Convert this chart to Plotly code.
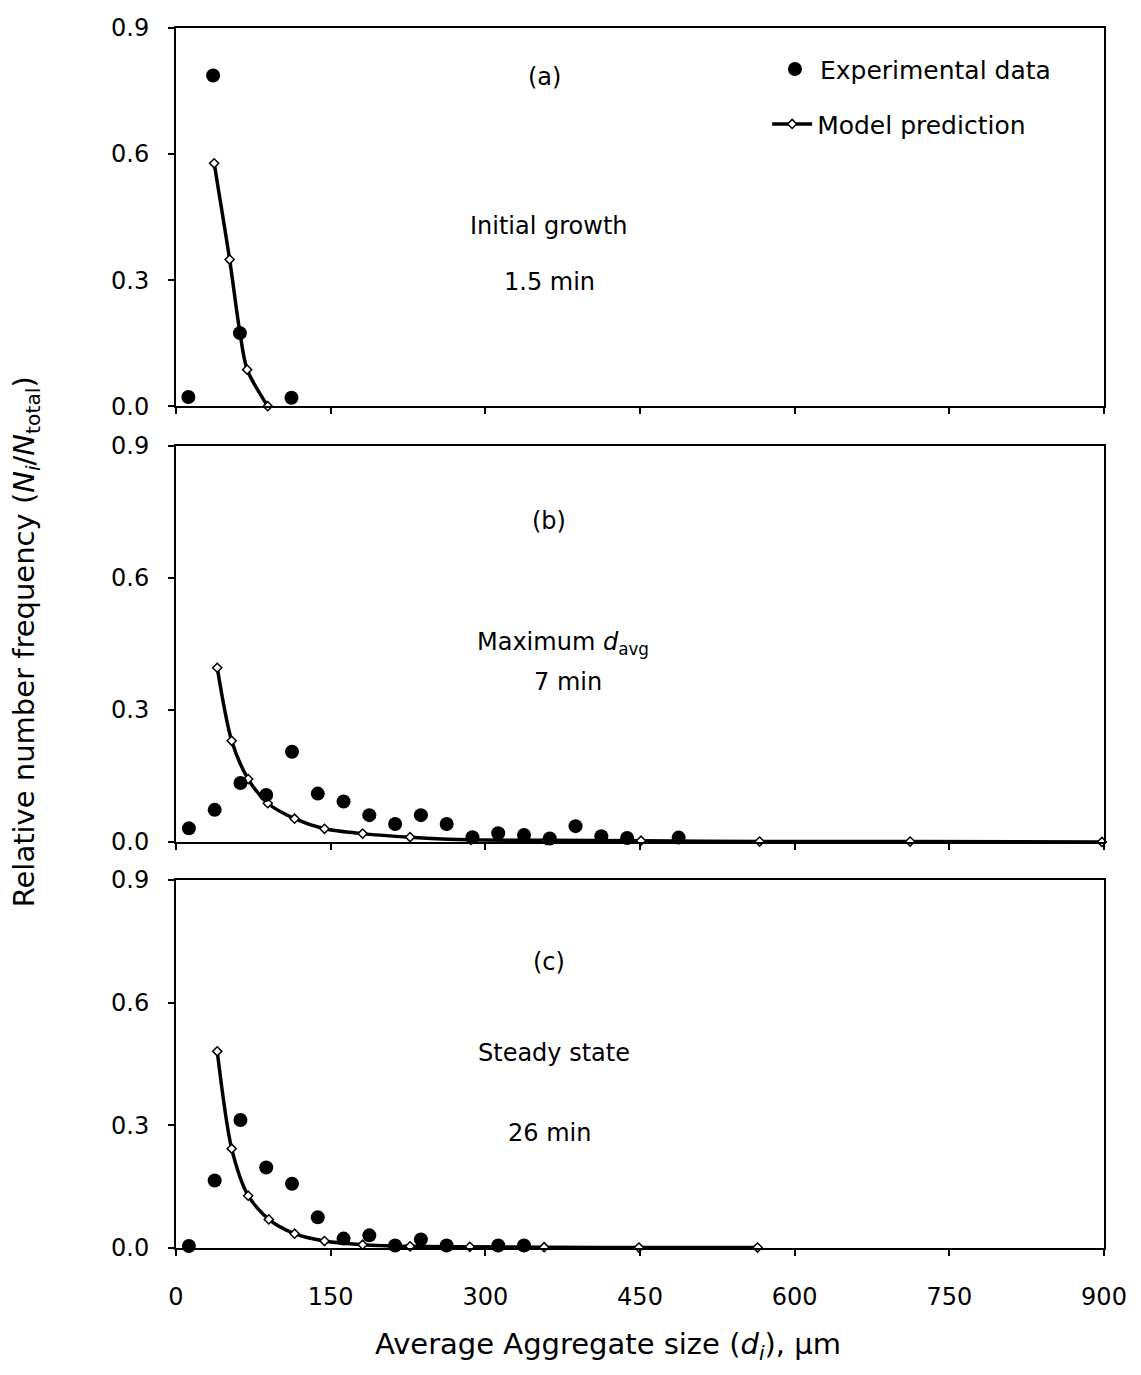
import plotly.graph_objects as go

# ---------------- data ----------------
# Panel (a): Initial growth, 1.5 min
exp_a_x = [12, 36, 62, 112]
exp_a_y = [0.022, 0.787, 0.174, 0.020]
mod_a_x = [37, 52, 62, 69, 89]
mod_a_y = [0.578, 0.349, 0.175, 0.087, 0.0]

# Panel (b): Maximum d_avg, 7 min
exp_b_x = [12.5, 37.5, 62.5, 87.5, 112.5, 137.5, 162.5, 187.5, 212.5, 237.5,
           262.5, 287.5, 312.5, 337.5, 362.5, 387.5, 412.5, 437.5, 487.5]
exp_b_y = [0.031, 0.073, 0.134, 0.107, 0.205, 0.110, 0.092, 0.061, 0.041, 0.061,
           0.041, 0.011, 0.020, 0.016, 0.008, 0.036, 0.013, 0.009, 0.010]
mod_b_x = [40, 54, 70, 89, 115, 144, 181, 227, 286, 359, 451, 566, 712, 898]
mod_b_y = [0.396, 0.230, 0.143, 0.088, 0.053, 0.030, 0.019, 0.011, 0.005, 0.004,
           0.003, 0.001, 0.001, 0.0]

# Panel (c): Steady state, 26 min
exp_c_x = [12.5, 37.5, 62.5, 87.5, 112.5, 137.5, 162.5, 187.5, 212.5, 237.5,
           262.5, 312.5, 337.5]
exp_c_y = [0.005, 0.165, 0.313, 0.197, 0.157, 0.075, 0.023, 0.031, 0.006, 0.021,
           0.006, 0.006, 0.006]
mod_c_x = [40, 54, 70, 90, 115, 144, 181, 227, 285, 357, 449, 564]
mod_c_y = [0.481, 0.243, 0.128, 0.070, 0.035, 0.017, 0.008, 0.004, 0.003, 0.002,
           0.001, 0.001]

x_ticks = [0, 150, 300, 450, 600, 750, 900]
y_ticks = [0.0, 0.3, 0.6, 0.9]

panels = [
    dict(ex=exp_a_x, ey=exp_a_y, mx=mod_a_x, my=mod_a_y, xa="x", ya="y",
         texts=[("(a)", 357, 0.783), ("Initial growth", 362, 0.43), ("1.5 min", 362, 0.295)]),
    dict(ex=exp_b_x, ey=exp_b_y, mx=mod_b_x, my=mod_b_y, xa="x2", ya="y2",
         texts=[("(b)", 362, 0.73), ("Maximum <i>d</i><sub>avg</sub>", 375, 0.45), ("7 min", 380, 0.364)]),
    dict(ex=exp_c_x, ey=exp_c_y, mx=mod_c_x, my=mod_c_y, xa="x3", ya="y3",
         texts=[("(c)", 362, 0.70), ("Steady state", 367, 0.477), ("26 min", 362, 0.281)]),
]

FONT = "DejaVu Sans, Liberation Sans, Arial, sans-serif"

fig = go.Figure()
for i, p in enumerate(panels):
    fig.add_trace(go.Scatter(
        x=p["mx"], y=p["my"], xaxis=p["xa"], yaxis=p["ya"],
        mode="lines+markers", name="Model prediction",
        line=dict(color="black", width=3.5, shape="spline", smoothing=0.8),
        marker=dict(symbol="diamond", size=7, color="white",
                    line=dict(color="black", width=1.5)),
        cliponaxis=False, showlegend=(i == 0), legend="legend2"))
    fig.add_trace(go.Scatter(
        x=p["ex"], y=p["ey"], xaxis=p["xa"], yaxis=p["ya"],
        mode="markers", name="Experimental data",
        marker=dict(symbol="circle", size=14, color="black"),
        cliponaxis=False, showlegend=(i == 0), legend="legend"))
    for (t, tx, ty) in p["texts"]:
        fig.add_annotation(x=tx, y=ty, xref=p["xa"], yref=p["ya"], text=t,
                           showarrow=False, font=dict(size=24, color="black", family=FONT))

domains = [[0.690, 1.0], [0.3328, 0.6574], [0.0, 0.3016]]
axis_common = dict(showline=True, linecolor="black", linewidth=2, mirror=True,
                   showgrid=False, zeroline=False, ticks="outside", ticklen=6,
                   tickwidth=1.5, tickcolor="black")
layout_axes = {}
for i, dom in enumerate(domains):
    sfx = "" if i == 0 else str(i + 1)
    layout_axes["xaxis" + sfx] = dict(
        axis_common, domain=[0, 1], range=[0, 900], tickvals=x_ticks,
        showticklabels=(i == 2), anchor="y" + sfx, ticklabelstandoff=20,
        tickfont=dict(size=24, color="black", family=FONT))
    layout_axes["yaxis" + sfx] = dict(
        axis_common, domain=dom, range=[0, 0.9], tickvals=y_ticks,
        tickformat=".1f", anchor="x" + sfx, ticklabelstandoff=14,
        tickfont=dict(size=24, color="black", family=FONT))

fig.update_layout(
    width=1141, height=1375,
    margin=dict(l=176, r=37, t=28, b=127),
    paper_bgcolor="white", plot_bgcolor="white",
    font=dict(family=FONT, color="black"),
    legend=dict(x=0.64, y=0.985, xanchor="left", yanchor="top",
                bgcolor="rgba(0,0,0,0)", font=dict(size=25, color="black", family=FONT),
                itemwidth=40),
    legend2=dict(x=0.637, y=0.94, xanchor="left", yanchor="top",
                 bgcolor="rgba(0,0,0,0)", font=dict(size=25, color="black", family=FONT),
                 itemwidth=40),
    **layout_axes,
)

# axis titles
fig.add_annotation(
    text="Average Aggregate size (<i>d<sub>i</sub></i>), μm",
    xref="paper", yref="paper", x=0.465, y=-0.08, showarrow=False,
    xanchor="center", yanchor="middle",
    font=dict(size=29, color="black", family=FONT))
fig.add_annotation(
    text="Relative number frequency (<i>N<sub>i</sub></i>/<i>N</i><sub>total</sub>)",
    xref="paper", yref="paper", x=-0.162, y=0.497, textangle=-90, showarrow=False,
    font=dict(size=29, color="black", family=FONT), xanchor="center", yanchor="middle")

fig.write_html("out.html")
